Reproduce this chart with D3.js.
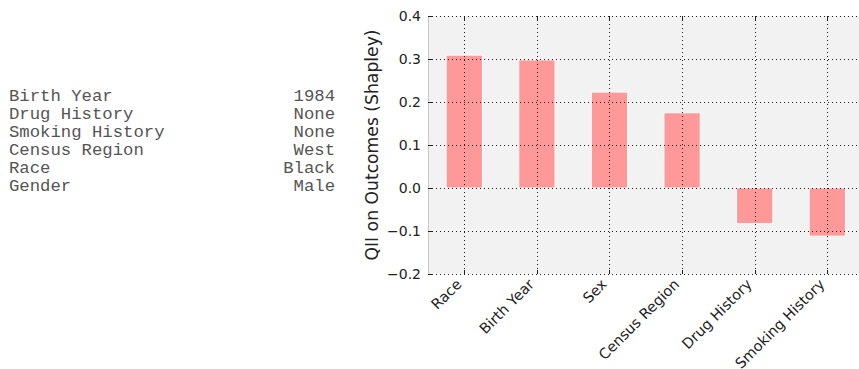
<!DOCTYPE html>
<html>
<head>
<meta charset="utf-8">
<script src="https://cdn.jsdelivr.net/npm/d3@7"></script>
<style>
  body { margin: 0; background: #fff; }
  svg { display: block; }
</style>
</head>
<body>
<div id="chart"></div>
<script>
// profile table on the left
var profileKeys = ["Birth Year", "Drug History", "Smoking History", "Census Region", "Race", "Gender"];
var profileVals = ["1984", "None", "None", "West", "Black", "Male"];

// bar chart data
var features = ["Race", "Birth Year", "Sex", "Census Region", "Drug History", "Smoking History"];
var shapley = [0.309, 0.298, 0.223, 0.175, -0.083, -0.112];
var yTicks = [-0.2, -0.1, 0.0, 0.1, 0.2, 0.3, 0.4];

var width = 859, height = 369;

var svg = d3.select("#chart").append("svg")
    .attr("width", width)
    .attr("height", height);

// left text block
var table = svg.append("g").attr("font-family", "'Liberation Mono', 'Courier New', monospace")
    .attr("font-size", 17.3)
    .attr("fill", "#555");

table.selectAll(".key")
    .data(profileKeys)
    .enter().append("text")
    .attr("class", "key")
    .attr("x", 9)
    .attr("y", function(d, i) { return 101 + i * 18; })
    .text(function(d) { return d; });

table.selectAll(".val")
    .data(profileVals)
    .enter().append("text")
    .attr("class", "val")
    .attr("x", 335)
    .attr("y", function(d, i) { return 101 + i * 18; })
    .attr("text-anchor", "end")
    .text(function(d) { return d; });

// plot area
var plotLeft = 428, plotTop = 16, plotBottom = 274;
var step = 72.6;
var plotRight = plotLeft + step * features.length;

var x = d3.scaleBand()
    .domain(features)
    .range([plotLeft, plotRight])
    .paddingInner(0.5)
    .paddingOuter(0.25);

var y = d3.scaleLinear()
    .domain([-0.2, 0.4])
    .range([plotBottom, plotTop]);

function cx(d) { return Math.round(x(d) + x.bandwidth() / 2) + 0.5; }

svg.append("rect")
    .attr("x", plotLeft)
    .attr("y", plotTop)
    .attr("width", plotRight - plotLeft)
    .attr("height", plotBottom - plotTop)
    .attr("fill", "#f1f2f1");

// bars
svg.selectAll(".bar")
    .data(shapley)
    .enter().append("rect")
    .attr("class", "bar")
    .attr("x", function(d, i) { return x(features[i]); })
    .attr("width", x.bandwidth())
    .attr("y", function(d) { return y(Math.max(0, d)); })
    .attr("height", function(d) { return Math.abs(y(d) - y(0)); })
    .attr("fill", "#ff9999")
    .attr("stroke", "#fff")
    .attr("stroke-width", 1);

// grid on top of bars
var grid = svg.append("g")
    .attr("stroke", "#222")
    .attr("stroke-width", 1)
    .attr("stroke-dasharray", "1,3");

grid.selectAll(".hgrid")
    .data(yTicks)
    .enter().append("line")
    .attr("x1", plotLeft)
    .attr("x2", plotRight)
    .attr("y1", function(d) { return Math.round(y(d)) + 0.5; })
    .attr("y2", function(d) { return Math.round(y(d)) + 0.5; });

grid.selectAll(".vgrid")
    .data(features)
    .enter().append("line")
    .attr("x1", cx)
    .attr("x2", cx)
    .attr("y1", plotTop)
    .attr("y2", plotBottom);

// left spine
svg.append("line")
    .attr("x1", plotLeft + 0.5).attr("x2", plotLeft + 0.5)
    .attr("y1", plotTop).attr("y2", plotBottom)
    .attr("stroke", "#c8c8c8");

// y axis (ticks inside)
var yAxis = svg.append("g")
    .attr("transform", "translate(" + plotLeft + ",0)")
    .call(d3.axisRight(y).tickValues(yTicks).tickSize(4)
        .tickFormat(function(d) { return d3.format(".1f")(d).replace("-", "\u2212"); }));
yAxis.select(".domain").remove();
yAxis.selectAll(".tick line").attr("stroke", "#222");
yAxis.selectAll(".tick text")
    .attr("x", -7)
    .attr("text-anchor", "end")
    .attr("font-family", "'DejaVu Sans', sans-serif")
    .attr("font-size", 14)
    .attr("fill", "#222");

// x ticks top and bottom (inside)
svg.selectAll(".xtickb")
    .data(features)
    .enter().append("line")
    .attr("x1", cx).attr("x2", cx)
    .attr("y1", plotBottom)
    .attr("y2", plotBottom - 4)
    .attr("stroke", "#222");

svg.selectAll(".xtickt")
    .data(features)
    .enter().append("line")
    .attr("x1", cx).attr("x2", cx)
    .attr("y1", plotTop)
    .attr("y2", plotTop + 4)
    .attr("stroke", "#222");

// x labels rotated
svg.selectAll(".xlabel")
    .data(features)
    .enter().append("text")
    .attr("transform", function(d) {
        return "translate(" + (x(d) + x.bandwidth() / 2 - 9) + "," + (plotBottom + 4) + ") rotate(-45)";
    })
    .attr("text-anchor", "end")
    .attr("dy", "0.7em")
    .attr("font-family", "'DejaVu Sans', sans-serif")
    .attr("font-size", 14.5)
    .attr("fill", "#222")
    .text(function(d) { return d; });

// y label
svg.append("text")
    .attr("transform", "translate(378," + ((plotTop + plotBottom) / 2) + ") rotate(-90)")
    .attr("text-anchor", "middle")
    .attr("font-family", "'DejaVu Sans', sans-serif")
    .attr("font-size", 17.2)
    .attr("fill", "#222")
    .text("QII on Outcomes (Shapley)");
</script>
</body>
</html>
